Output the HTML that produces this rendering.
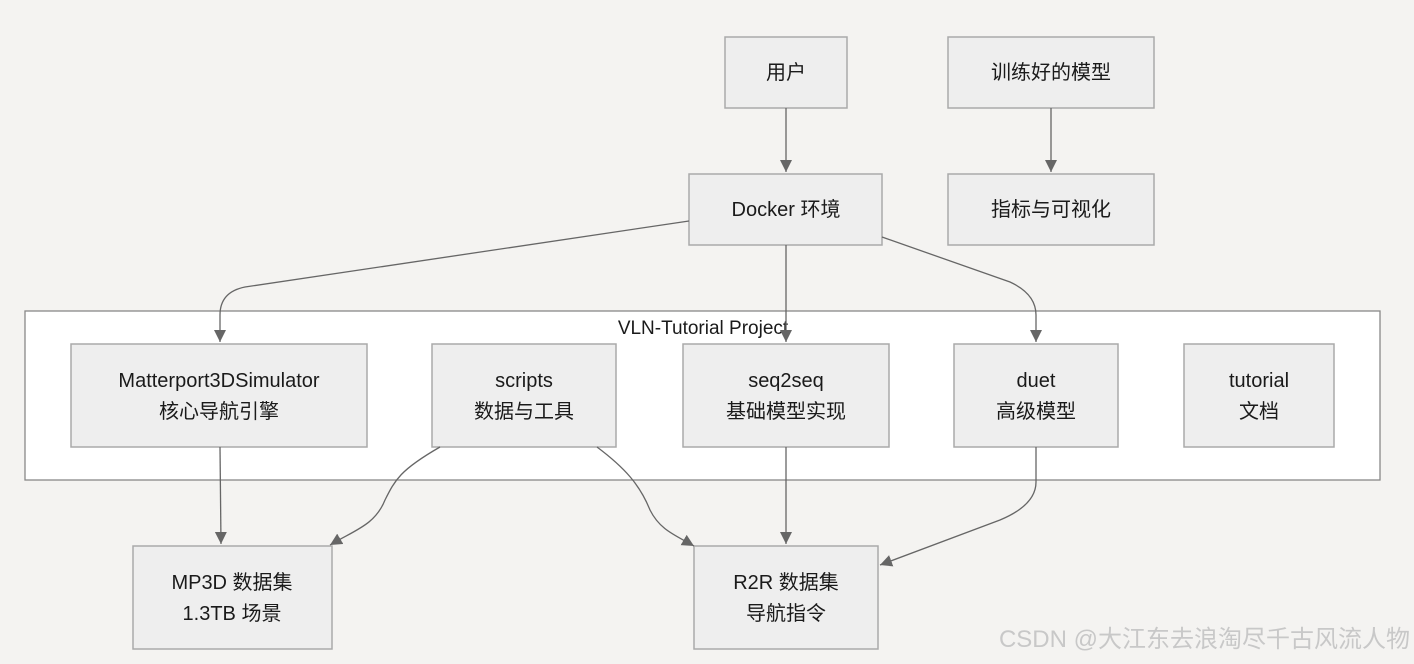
<!DOCTYPE html>
<html><head><meta charset="utf-8"><style>
html,body{margin:0;padding:0;background:#f4f3f1;}
svg{display:block;}
text{font-family:"Liberation Sans","Noto Sans CJK SC",sans-serif;font-size:20px;fill:#1a1a1a;text-anchor:middle;}
.n{fill:#eeeeee;stroke:#aaaaaa;stroke-width:1.5;}
.e{fill:none;stroke:#666;stroke-width:1.3;}
</style></head><body>
<svg width="1414" height="664" viewBox="0 0 1414 664" xmlns="http://www.w3.org/2000/svg">
<defs><marker id="a" markerWidth="14" markerHeight="14" refX="12" refY="6" orient="auto" markerUnits="userSpaceOnUse"><path d="M0,0 L12,6 L0,12 z" fill="#666"/></marker></defs>
<rect x="25" y="311" width="1355" height="169" fill="#fff" stroke="#888" stroke-width="1.3"/>
<text x="703" y="334" style="font-size:19px">VLN-Tutorial Project</text>

<rect class="n" x="725" y="37" width="122" height="71"/><text x="786" y="79">用户</text>
<rect class="n" x="948" y="37" width="206" height="71"/><text x="1051" y="79">训练好的模型</text>
<rect class="n" x="689" y="174" width="193" height="71"/><text x="786" y="216">Docker 环境</text>
<rect class="n" x="948" y="174" width="206" height="71"/><text x="1051" y="216">指标与可视化</text>

<rect class="n" x="71" y="344" width="296" height="103"/><text x="219" y="387">Matterport3DSimulator</text><text x="219" y="418">核心导航引擎</text>
<rect class="n" x="432" y="344" width="184" height="103"/><text x="524" y="387">scripts</text><text x="524" y="418">数据与工具</text>
<rect class="n" x="683" y="344" width="206" height="103"/><text x="786" y="387">seq2seq</text><text x="786" y="418">基础模型实现</text>
<rect class="n" x="954" y="344" width="164" height="103"/><text x="1036" y="387">duet</text><text x="1036" y="418">高级模型</text>
<rect class="n" x="1184" y="344" width="150" height="103"/><text x="1259" y="387">tutorial</text><text x="1259" y="418">文档</text>

<rect class="n" x="133" y="546" width="199" height="103"/><text x="232" y="589">MP3D 数据集</text><text x="232" y="620">1.3TB 场景</text>
<rect class="n" x="694" y="546" width="184" height="103"/><text x="786" y="589">R2R 数据集</text><text x="786" y="620">导航指令</text>

<path class="e" d="M786,108 L786,172" marker-end="url(#a)"/>
<path class="e" d="M1051,108 L1051,172" marker-end="url(#a)"/>
<path class="e" d="M689,221 L245,287 Q220,292 220,315 L220,342" marker-end="url(#a)"/>
<path class="e" d="M786,245 L786,342" marker-end="url(#a)"/>
<path class="e" d="M882,237 L1010,282 Q1036,294 1036,315 L1036,342" marker-end="url(#a)"/>
<path class="e" d="M220,447 L221,544" marker-end="url(#a)"/>
<path class="e" d="M440,447 C400,470 395,480 385,500 C375,525 355,530 330,545" marker-end="url(#a)"/>
<path class="e" d="M597,447 C625,468 640,485 650,510 C660,530 675,535 694,546" marker-end="url(#a)"/>
<path class="e" d="M786,447 L786,544" marker-end="url(#a)"/>
<path class="e" d="M1036,447 L1036,482 Q1036,505 1000,520 L880,565" marker-end="url(#a)"/>

<text x="1410" y="647" style="font-size:24px;fill:#c8c8c8;text-anchor:end">CSDN @大江东去浪淘尽千古风流人物</text>
</svg>
</body></html>
